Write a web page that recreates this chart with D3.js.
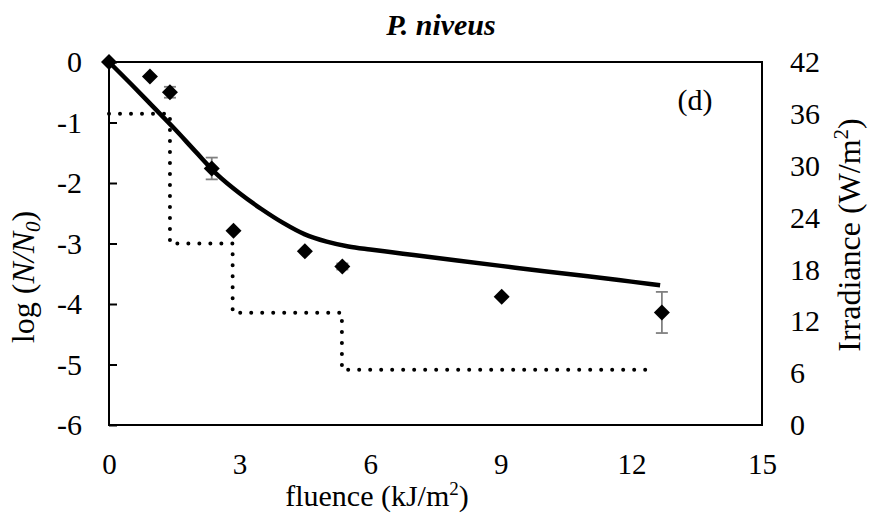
<!DOCTYPE html>
<html><head><meta charset="utf-8">
<script src="https://cdn.jsdelivr.net/npm/d3@7"></script>
<style>
body{margin:0;background:#fff;}
svg{display:block;font-family:"Liberation Serif","Times New Roman",serif;}
</style></head>
<body>
<svg id="chart" width="869" height="513"></svg>
<script>
// measured data points: fluence (kJ/m2), log(N/N0), error
const fluence = [0, 0.94, 1.40, 2.36, 2.86, 4.50, 5.36, 9.02, 12.70];
const logNN0 = [0, -0.24, -0.50, -1.76, -2.79, -3.13, -3.38, -3.88, -4.14];
const errs = [0, 0, 0.09, 0.18, 0, 0, 0.05, 0, 0.34];
// model curve
const curveX = [0, 0.5, 1, 1.5, 2, 2.5, 3, 3.5, 4, 4.5, 5, 5.5, 6, 6.5, 7, 8, 9, 10, 11, 12, 12.66];
const curveY = [0, -0.36, -0.73, -1.10, -1.49, -1.87, -2.17, -2.43, -2.66, -2.85, -2.97, -3.05, -3.10, -3.145, -3.19, -3.28, -3.37, -3.46, -3.54, -3.63, -3.69];
// irradiance step profile
const stepX = [0, 1.40, 1.40, 2.84, 2.84, 5.35, 5.35, 12.5];
const stepIrr = [36, 36, 21, 21, 13, 13, 6.4, 6.4];
// ticks
const xTicks = [0, 3, 6, 9, 12, 15];
const yTicks = [0, -1, -2, -3, -4, -5, -6];
const y2Ticks = [0, 6, 12, 18, 24, 30, 36, 42];

const svg = d3.select("#chart");
const L = 109, R = 762, T = 62, B = 425;
const x = d3.scaleLinear().domain([0, 15]).range([L, R]);
const y = d3.scaleLinear().domain([-6, 0]).range([B, T]);
const y2 = d3.scaleLinear().domain([0, 42]).range([B, T]);
const fmt = d => String(d);

// title
svg.append("text").attr("x", 441).attr("y", 35).attr("text-anchor", "middle")
  .attr("font-size", 30).attr("font-weight", "bold").attr("font-style", "italic").text("P. niveus");

// frame
svg.append("rect").attr("x", L).attr("y", T).attr("width", R - L).attr("height", B - T)
  .attr("fill", "none").attr("stroke", "#000").attr("stroke-width", 2);

// left axis inner ticks + labels
const yAxis = d3.axisLeft(y).tickValues(yTicks).tickSizeInner(-8).tickSizeOuter(0).tickPadding(27).tickFormat(fmt);
const ga = svg.append("g").attr("transform", `translate(${L},0)`).call(yAxis);
ga.select(".domain").remove();
ga.selectAll(".tick line").attr("stroke", "#000").attr("stroke-width", 2);
ga.selectAll(".tick text").attr("font-size", 30).attr("font-family", "Liberation Serif").attr("fill", "#000");

// right axis labels
const y2Axis = d3.axisRight(y2).tickValues(y2Ticks).tickSize(0).tickPadding(28).tickFormat(fmt);
const gr = svg.append("g").attr("transform", `translate(${R},0)`).call(y2Axis);
gr.select(".domain").remove();
gr.selectAll(".tick text").attr("font-size", 30).attr("font-family", "Liberation Serif").attr("fill", "#000");

// bottom axis labels
const xAxis = d3.axisBottom(x).tickValues(xTicks).tickSize(0).tickPadding(28).tickFormat(fmt);
const gb = svg.append("g").attr("transform", `translate(0,${B})`).call(xAxis);
gb.select(".domain").remove();
gb.selectAll(".tick text").attr("font-size", 29).attr("font-family", "Liberation Serif").attr("fill", "#000");

// dotted irradiance step line
const stepData = stepX.map((d, i) => [d, stepIrr[i]]);
svg.append("path").datum(stepData)
  .attr("d", d3.line().x(d => x(d[0])).y(d => y2(d[1])))
  .attr("fill", "none").attr("stroke", "#000").attr("stroke-width", 4)
  .attr("stroke-linecap", "round").attr("stroke-dasharray", "0 11");

// solid model curve
const cData = curveX.map((d, i) => [d, curveY[i]]);
svg.append("path").datum(cData)
  .attr("d", d3.line().x(d => x(d[0])).y(d => y(d[1])).curve(d3.curveMonotoneX))
  .attr("fill", "none").attr("stroke", "#000").attr("stroke-width", 4.5);

// error bars
const pts = fluence.map((d, i) => ({x: d, y: logNN0[i], e: errs[i]}));
const eb = svg.append("g").attr("stroke", "#808080").attr("stroke-width", 1.8);
pts.filter(p => p.e > 0).forEach(p => {
  const cx = x(p.x), y1 = y(p.y + p.e), y0 = y(p.y - p.e);
  eb.append("line").attr("x1", cx).attr("x2", cx).attr("y1", y1).attr("y2", y0);
  eb.append("line").attr("x1", cx - 6).attr("x2", cx + 6).attr("y1", y1).attr("y2", y1);
  eb.append("line").attr("x1", cx - 6).attr("x2", cx + 6).attr("y1", y0).attr("y2", y0);
});

// diamond markers
const r = 8;
svg.append("g").selectAll("path").data(pts).join("path")
  .attr("d", p => { const cx = x(p.x), cy = y(p.y); return `M${cx},${cy - r}L${cx + r},${cy}L${cx},${cy + r}L${cx - r},${cy}Z`; })
  .attr("fill", "#000");

// (d) label
svg.append("text").attr("x", 695).attr("y", 110).attr("text-anchor", "middle").attr("font-size", 30).text("(d)");

// x axis title
const xt = svg.append("text").attr("x", 377).attr("y", 506).attr("text-anchor", "middle").attr("font-size", 30);
xt.append("tspan").text("fluence (kJ/m");
xt.append("tspan").attr("font-size", 19).attr("dy", -11).text("2");
xt.append("tspan").attr("dy", 11).text(")");

// left y title
const lt = svg.append("text").attr("transform", "translate(34,277) rotate(-90)").attr("text-anchor", "middle").attr("font-size", 32);
lt.append("tspan").text("log (");
lt.append("tspan").attr("font-style", "italic").text("N/N");
lt.append("tspan").attr("font-style", "italic").attr("font-size", 21).attr("dy", 6).text("0");
lt.append("tspan").attr("dy", -6).text(")");

// right y title
const rt = svg.append("text").attr("transform", "translate(860,235) rotate(-90)").attr("text-anchor", "middle").attr("font-size", 32);
rt.append("tspan").text("Irradiance (W/m");
rt.append("tspan").attr("font-size", 21).attr("dy", -12).text("2");
rt.append("tspan").attr("dy", 12).text(")");
</script>
</body></html>
